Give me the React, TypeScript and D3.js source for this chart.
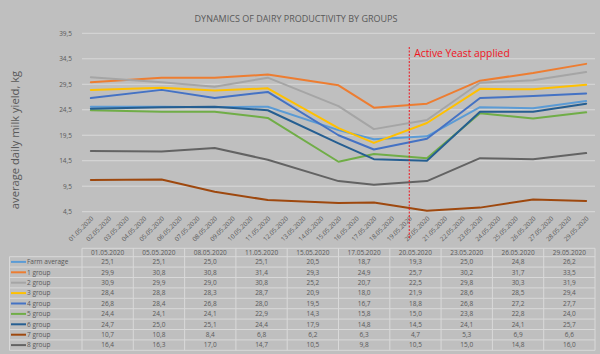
import React from 'react';
import * as d3 from 'd3';

const dates = ['01.05.2020', '05.05.2020', '08.05.2020', '11.05.2020', '15.05.2020', '17.05.2020', '20.05.2020', '23.05.2020', '26.05.2020', '29.05.2020'];
const farmAverage = [25.1, 25.1, 25.0, 25.1, 20.5, 18.7, 19.3, 25.0, 24.8, 26.2];
const group1 = [29.9, 30.8, 30.8, 31.4, 29.3, 24.9, 25.7, 30.2, 31.7, 33.5];
const group2 = [30.9, 29.9, 29.0, 30.8, 25.2, 20.7, 22.5, 29.8, 30.3, 31.9];
const group3 = [28.4, 28.8, 28.3, 28.7, 20.9, 18.0, 21.9, 28.6, 28.5, 29.4];
const group4 = [26.8, 28.4, 26.8, 28.0, 19.5, 16.7, 18.8, 26.8, 27.2, 27.7];
const group5 = [24.4, 24.1, 24.1, 22.9, 14.3, 15.8, 15.0, 23.8, 22.8, 24.0];
const group6 = [24.7, 25.0, 25.1, 24.4, 17.9, 14.8, 14.5, 24.1, 24.1, 25.7];
const group7 = [10.7, 10.8, 8.4, 6.8, 6.2, 6.3, 4.7, 5.3, 6.9, 6.6];
const group8 = [16.4, 16.3, 17.0, 14.7, 10.5, 9.8, 10.5, 15.0, 14.8, 16.0];

const seriesNames = ['Farm average', '1 group', '2 group', '3 group', '4 group', '5 group', '6 group', '7 group', '8 group'];
const seriesValues = [farmAverage, group1, group2, group3, group4, group5, group6, group7, group8];
const seriesColors = ['#5B9BD5', '#ED7D31', '#A5A5A5', '#FFC000', '#4472C4', '#70AD47', '#255E91', '#9E480E', '#636363'];

const yTicks = [4.5, 9.5, 14.5, 19.5, 24.5, 29.5, 34.5, 39.5];
const yeastDate = '19.05.2020';
const firstDay = '01.05.2020';
const lastDay = '29.05.2020';

const parse = d3.utcParse('%d.%m.%Y');
const fmtDay = d3.utcFormat('%d.%m.%Y');
const fmtNum = (v: number) => v.toFixed(1).replace('.', ',');

const W = 600;
const H = 354;
const textColor = '#595959';
const gridColor = '#D9D9D9';
const font = "'Open Sans', 'Noto Sans', sans-serif";

export default function App() {
  const left = 82;
  const right = 595;

  const start = parse(firstDay) as Date;
  const end = parse(lastDay) as Date;
  // date axis: each day is one slot, points sit in the middle of their day
  const x = d3.scaleTime()
    .domain([d3.utcHour.offset(start, -12), d3.utcHour.offset(end, 12)])
    .range([left, right]);
  const y = d3.scaleLinear().domain([4.5, 39.5]).range([211.7, 33.3]);
  const days = d3.utcDay.range(start, d3.utcDay.offset(end, 1));

  const line = d3.line<number>()
    .x((_, i) => x(parse(dates[i]) as Date))
    .y(d => y(d));

  const col = d3.scaleBand<string>().domain(dates).range([left, right]);
  const headTop = 248.3;
  const headBottom = 256.7;
  const tableBottom = 350.3;
  const row = d3.scaleBand<string>().domain(seriesNames).range([headBottom, tableBottom]);
  const tableLeft = 9.5;

  const yeastX = x(parse(yeastDate) as Date);

  return (
    <svg width={W} height={H} style={{ position: 'absolute', left: 0, top: 0, background: '#BFBFBF' }} fontFamily={font}>
      <rect x={0} y={0} width={W} height={H} fill='#BFBFBF' />

      {/* title */}
      <text x={296} y={22} textAnchor='middle' fontSize={9} fill={textColor}>DYNAMICS OF DAIRY PRODUCTIVITY BY GROUPS</text>

      {/* y axis title */}
      <text transform={`translate(19,140) rotate(-90)`} textAnchor='middle' fontSize={11.2} fill={textColor}>average daily milk yield, kg</text>

      {/* grid + y ticks */}
      {yTicks.map(t => (
        <g key={t}>
          <line x1={left} x2={right} y1={y(t)} y2={y(t)} stroke={gridColor} strokeWidth={1} />
          <text x={72} y={y(t) + 2.3} textAnchor='end' fontSize={6.5} fill={textColor}>{fmtNum(t)}</text>
        </g>
      ))}

      {/* x day labels */}
      {days.map(d => (
        <text key={+d} transform={`translate(${x(d) + 3},${219}) rotate(-45)`} textAnchor='end' fontSize={6.3} fill={textColor}>{fmtDay(d)}</text>
      ))}

      {/* series */}
      {seriesValues.map((vals, i) => (
        <path key={seriesNames[i]} d={line(vals) || ''} fill='none' stroke={seriesColors[i]} strokeWidth={2} strokeLinejoin='round' strokeLinecap='round' />
      ))}

      {/* yeast marker */}
      <line x1={yeastX} x2={yeastX} y1={47} y2={238} stroke='#F0141E' strokeWidth={1} strokeDasharray='2,1.5' />
      <text x={yeastX + 5} y={57} fontSize={10.3} fill='#F0141E'>Active Yeast applied</text>

      {/* data table */}
      <g stroke={gridColor} strokeWidth={1} fill='none'>
        <line x1={left} x2={right} y1={headTop} y2={headTop} />
        {seriesNames.map(n => (
          <line key={n} x1={tableLeft} x2={right} y1={row(n)} y2={row(n)} />
        ))}
        <line x1={tableLeft} x2={right} y1={tableBottom} y2={tableBottom} />
        <line x1={tableLeft} x2={tableLeft} y1={headBottom} y2={tableBottom} />
        {dates.map(d => (
          <line key={d} x1={col(d)} x2={col(d)} y1={headTop} y2={tableBottom} />
        ))}
        <line x1={right} x2={right} y1={headTop} y2={tableBottom} />
      </g>
      {dates.map(d => (
        <text key={d} x={(col(d) as number) + col.bandwidth() / 2} y={headTop + 6.3} textAnchor='middle' fontSize={6.5} fill={textColor}>{d}</text>
      ))}
      {seriesNames.map((n, i) => {
        const cy = (row(n) as number) + row.bandwidth() / 2;
        return (
          <g key={n}>
            <line x1={11} x2={26} y1={cy} y2={cy} stroke={seriesColors[i]} strokeWidth={2} />
            <text x={27} y={cy + 2.3} fontSize={6.5} fill={textColor}>{n}</text>
            {seriesValues[i].map((v, j) => (
              <text key={j} x={(col(dates[j]) as number) + col.bandwidth() / 2} y={cy + 2.3} textAnchor='middle' fontSize={6.5} fill={textColor}>{fmtNum(v)}</text>
            ))}
          </g>
        );
      })}
    </svg>
  );
}
